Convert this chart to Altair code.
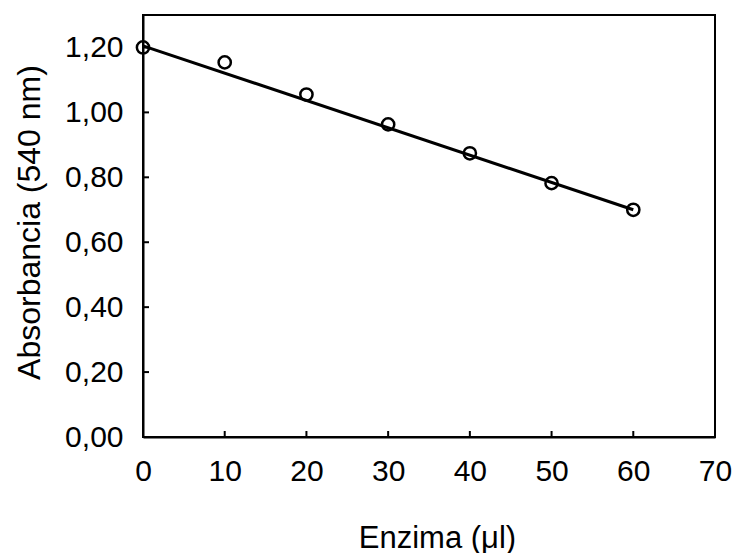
import altair as alt
import pandas as pd

# ---- data ----
enzima = [0, 10, 20, 30, 40, 50, 60]
absorbancia = [1.200, 1.154, 1.055, 0.963, 0.874, 0.782, 0.700]
fit_x = [0, 60]
fit_y = [1.205, 0.700]
x_ticks = [0, 10, 20, 30, 40, 50, 60, 70]
y_ticks = [0.0, 0.2, 0.4, 0.6, 0.8, 1.0, 1.2]

W, H = 572, 422
FONT = "Liberation Sans"

pts = pd.DataFrame({"x": enzima, "y": absorbancia})
fit = pd.DataFrame({"x": fit_x, "y": fit_y})
xt = pd.DataFrame({"x": x_ticks[1:-1]})
yt = pd.DataFrame({"y": y_ticks[1:]})

xs = alt.Scale(domain=[0, 70], nice=False, zero=False)
ys = alt.Scale(domain=[0, 1.3], nice=False, zero=False)

x_axis = alt.Axis(
    values=x_ticks, ticks=False, grid=False,
    labelExpr="format(datum.value, 'd')",
    title="Enzima (μl)",
    labelPadding=19, labelFontSize=30, labelFont=FONT, labelColor="black",
    titleFontSize=31, titleFont=FONT, titleFontWeight="normal", titleColor="black",
    titleX=294, titleY=110, titleBaseline="alphabetic", titleAlign="center",
    domainColor="black", domainWidth=2, labelFlush=False, labelOverlap=False,
)
y_axis = alt.Axis(
    values=y_ticks, ticks=False, grid=False,
    labelExpr="replace(format(datum.value, '.2f'), '.', ',')",
    title="Absorbancia (540 nm)",
    labelPadding=20, labelFontSize=30, labelFont=FONT, labelColor="black",
    titleFontSize=32, titleFont=FONT, titleFontWeight="normal", titleColor="black",
    titleX=-104, titleY=207, titleBaseline="alphabetic", titleAlign="center", titleAngle=-90,
    domainColor="black", domainWidth=2, labelFlush=False, labelOverlap=False,
)

X = lambda: alt.X("x:Q", scale=xs, axis=x_axis, title="Enzima (μl)")
Y = lambda: alt.Y("y:Q", scale=ys, axis=y_axis, title="Absorbancia (540 nm)")

points = alt.Chart(pts).mark_point(
    shape="circle", filled=False, size=150, strokeWidth=2.5, color="black", opacity=1
).encode(x=X(), y=Y())

line = alt.Chart(fit).mark_line(color="black", strokeWidth=3).encode(x=X(), y=Y())

xtick = alt.Chart(xt).mark_rule(color="black", strokeWidth=2).encode(
    x=X(),
    y=alt.value(H),
    y2=alt.value(H - 6),
)

ytick = alt.Chart(yt).mark_rule(color="black", strokeWidth=2).encode(
    y=Y(),
    x=alt.value(0),
    x2=alt.value(6),
)

chart = alt.layer(points, line, xtick, ytick).properties(
    width=W, height=H,
    autosize=alt.AutoSizeParams(type="none"),
    padding={"left": 143, "top": 15, "right": 21, "bottom": 116},
    background="white",
).configure_view(stroke="black", strokeWidth=2)

chart.save("out.html", embed_options={"renderer": "svg", "actions": False})
